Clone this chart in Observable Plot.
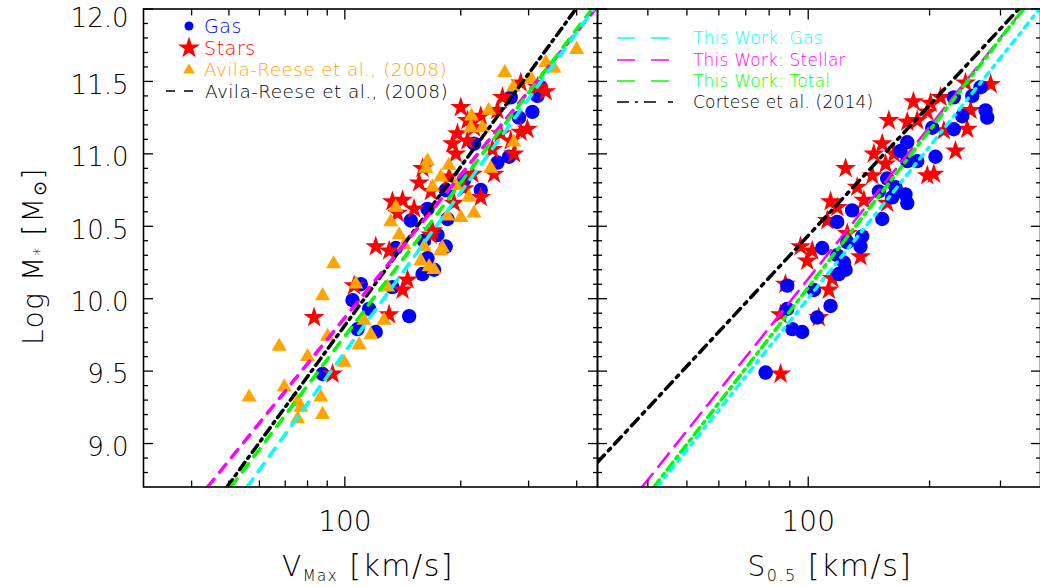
<!DOCTYPE html>
<html>
<head>
<meta charset="utf-8">
<script src="https://cdn.jsdelivr.net/npm/d3@7"></script>
<script src="https://cdn.jsdelivr.net/npm/@observablehq/plot@0.6"></script>
<style>
  html, body { margin: 0; padding: 0; background: #fff; }
  #chart { position: relative; width: 1040px; height: 587px; overflow: hidden; background: #fff; }
  #chart svg { position: absolute; top: 0; overflow: visible; }
</style>
</head>
<body>
<div id="chart"></div>
<script>
// ---- axis ticks ----
const yMajorTicks = [9.0, 9.5, 10.0, 10.5, 11.0, 11.5, 12.0];
const yMinorTicks = [8.8, 8.9, 9.1, 9.2, 9.3, 9.4, 9.6, 9.7, 9.8, 9.9, 10.1, 10.2, 10.3, 10.4,
                     10.6, 10.7, 10.8, 10.9, 11.1, 11.2, 11.3, 11.4, 11.6, 11.7, 11.8, 11.9];
const yLabelTicks = [9.0, 9.5, 10.0, 10.5, 11.0, 11.5];
const yTopLabelTick = [12.0];
const xMajorTicks = [100];
const xMinorTicksLeft = [40, 50, 60, 70, 80, 90, 200, 300, 400];
const xMinorTicksRight = [40, 50, 60, 70, 80, 90, 200, 300];

// ---- left panel: log M* against V_max ----
const vmaxGasV = [322.6, 316.2, 269.7, 306.9, 283.4, 216.5, 249.0, 266.9, 204.0, 225.4, 182.8, 163.9, 184.7, 148.3, 174.0,
                  160.6, 135.6, 163.9, 159.1, 110.0, 104.7, 132.9, 170.5, 182.8, 115.6, 107.9, 120.3, 146.9, 87.5];
const vmaxGasM = [11.46, 11.40, 11.39, 11.29, 11.25, 11.07, 10.94, 10.98, 10.82, 10.75, 10.75, 10.62, 10.55, 10.54, 10.44,
                  10.40, 10.35, 10.28, 10.17, 10.10, 9.99, 10.08, 10.20, 10.36, 9.93, 9.79, 9.77, 9.88, 9.48];

const vmaxStarsV = [316.2, 286.2, 256.6, 249.0, 225.4, 208.1, 286.2, 297.9, 196.1, 190.4, 208.1, 241.6, 275.0, 244.0,
                    194.1, 159.1, 155.9, 167.2, 186.5, 214.5, 132.9, 141.2, 151.3, 137.0, 192.1, 204.0, 225.4, 120.3,
                    130.3, 145.5, 141.2, 168.9, 254.0, 216.5, 200.0, 105.7, 130.3, 83.2, 92.9, 167.2, 269.7, 332.4];
const vmaxStarsM = [11.46, 11.49, 11.39, 11.30, 11.26, 11.23, 11.15, 11.17, 11.14, 11.07, 11.09, 11.03, 11.00, 10.86,
                    11.00, 10.90, 10.80, 10.74, 10.84, 10.86, 10.67, 10.68, 10.62, 10.59, 10.66, 10.76, 10.70, 10.36,
                    10.33, 10.13, 10.06, 10.47, 11.14, 11.18, 11.32, 10.09, 9.89, 9.87, 9.48, 10.44, 11.09, 11.43];

const avilaV = [399.9, 332.4, 349.2, 260.1, 303.9, 274.1, 213.2, 236.4, 212.3, 227.7, 274.5, 163.9, 162.3, 186.2, 239.2,
                177.5, 168.9, 194.1, 209.7, 135.6, 200.0, 216.5, 131.6, 184.7, 138.4, 142.5, 160.6, 179.3, 157.5, 170.5,
                93.5, 87.5, 106.8, 129.1, 112.2, 126.4, 90.2, 116.8, 108.9, 67.5, 80.0, 99.6, 69.6, 56.4, 75.4,
                86.6, 76.9, 87.5, 75.4, 165.5, 177.5];
const avilaM = [11.72, 11.63, 11.59, 11.56, 11.52, 11.46, 11.26, 11.30, 11.18, 11.18, 11.08, 10.95, 10.90, 10.92, 10.90,
                10.84, 10.77, 10.78, 10.70, 10.63, 10.56, 10.59, 10.53, 10.57, 10.44, 10.37, 10.36, 10.35, 10.26, 10.20,
                10.24, 10.02, 10.10, 10.08, 9.85, 9.85, 9.74, 9.75, 9.68, 9.67, 9.60, 9.56, 9.39, 9.32, 9.29,
                9.32, 9.25, 9.20, 9.17, 10.22, 10.33];

// fitted relations, given by their end points (V_max, log M*)
const vmaxFitM = [8.7, 12.0];
const vmaxGasFitV = [55.7, 443];
const vmaxStellarFitV = [44.0, 447];
const vmaxTotalFitV = [50.6, 438];
const avilaFitV = [49.4, 398];

// ---- right panel: log M* against S_0.5 ----
const s05GasS = [267.6, 255.3, 275.4, 278.1, 241.1, 229.7, 229.7, 203.1, 206.9, 176.1, 169.4, 186.4, 176.1, 157.0, 164.7,
                 174.3, 176.1, 161.6, 149.7, 152.6, 128.5, 118.0, 125.0, 136.1, 134.8, 108.3, 118.0, 122.6, 123.8, 119.1,
                 103.3, 88.7, 113.6, 105.3, 88.7, 91.3, 96.6, 78.4];
const s05GasM = [11.46, 11.40, 11.30, 11.25, 11.26, 11.39, 11.17, 11.18, 10.98, 11.08, 11.02, 10.95, 10.95, 10.83, 10.77,
                 10.72, 10.66, 10.70, 10.74, 10.55, 10.61, 10.53, 10.39, 10.43, 10.36, 10.35, 10.30, 10.25, 10.20, 10.17,
                 10.06, 10.09, 9.95, 9.87, 9.93, 9.79, 9.77, 9.49];

const s05StarsS = [283.5, 245.6, 213.0, 201.1, 197.4, 186.4, 158.5, 176.1, 248.0, 217.0, 252.8, 232.0, 205.0, 197.4,
                   152.6, 145.5, 163.1, 155.6, 123.8, 144.2, 132.3, 137.4, 113.6, 111.5, 118.0, 157.0, 134.8, 125.0,
                   95.7, 102.3, 99.4, 114.7, 112.5, 87.8, 106.2, 85.4, 85.4, 182.4];
const s05StarsM = [11.48, 11.49, 11.39, 11.35, 11.29, 11.23, 11.23, 11.22, 11.17, 11.16, 11.30, 11.02, 10.86, 10.85,
                   11.07, 11.00, 11.00, 10.93, 10.90, 10.85, 10.77, 10.68, 10.67, 10.54, 10.63, 10.66, 10.29, 10.45,
                   10.36, 10.33, 10.26, 10.14, 10.06, 10.10, 9.87, 9.89, 9.48, 11.36];

const s05FitM = [8.7, 12.0];
const s05GasFitS = [42.2, 375];
const s05StellarFitS = [38.7, 342];
const s05TotalFitS = [41.4, 342];
const corteseFitS = [30.0, 333];
const corteseFitM = [8.87, 12.0];

// ---- styling ----
const FONT = "'DejaVu Sans', sans-serif";
const BLUE = "#0000ff", RED = "#ff0000", ORANGE = "#ffa500";
const CYAN = "#00ffff", MAGENTA = "#ff00ff", GREEN = "#00ff00";
const H = 587, TOP = 8.5, BOTTOM = 100.5;
const yDomain = [8.7, 12.0];

const seg = (xs, ys) => xs.map((x, i) => ({x, y: ys[i]}));

function frameAxes(xMinor, withYLabels) {
  const tickOnly = () => "";
  const marks = [
    Plot.axisX(xMajorTicks, {anchor: "bottom", tickSize: -10, tickFormat: tickOnly, strokeWidth: 1.3}),
    Plot.axisX(xMinor, {anchor: "bottom", tickSize: -6, tickFormat: tickOnly, strokeWidth: 1.3}),
    Plot.axisX(xMajorTicks, {anchor: "top", tickSize: -10, tickFormat: tickOnly, strokeWidth: 1.3}),
    Plot.axisX(xMinor, {anchor: "top", tickSize: -6, tickFormat: tickOnly, strokeWidth: 1.3}),
    Plot.axisY(yMajorTicks, {anchor: "left", tickSize: -10, tickFormat: tickOnly, strokeWidth: 1.3}),
    Plot.axisY(yMinorTicks, {anchor: "left", tickSize: -5, tickFormat: tickOnly, strokeWidth: 1.3}),
    Plot.axisY(yMajorTicks, {anchor: "right", tickSize: -10, tickFormat: tickOnly, strokeWidth: 1.3}),
    Plot.axisY(yMinorTicks, {anchor: "right", tickSize: -5, tickFormat: tickOnly, strokeWidth: 1.3}),
    Plot.axisX(xMajorTicks, {anchor: "bottom", tickSize: 0, tickPadding: 24, tickFormat: d => String(d),
                             fontSize: 28, fontFamily: FONT, fontWeight: 200, letterSpacing: 2}),
    Plot.frame({stroke: "#000", strokeWidth: 1.6})
  ];
  if (withYLabels) {
    const yText = {anchor: "left", tickSize: 0, tickPadding: 15, tickFormat: d3.format(".1f"),
                   fontSize: 26, fontFamily: FONT, fontWeight: 200, letterSpacing: 3};
    marks.push(Plot.axisY(yLabelTicks, {...yText, dy: 4}));
    marks.push(Plot.axisY(yTopLabelTick, {...yText, dy: 10}));
  }
  return marks;
}

// left panel
const left = Plot.plot({
  width: 597, height: H, marginTop: TOP, marginBottom: BOTTOM, marginLeft: 143, marginRight: 0,
  x: {type: "log", domain: [30, 453], label: null},
  y: {domain: yDomain, label: null},
  style: {fontFamily: FONT, color: "#000", background: "transparent", overflow: "visible"},
  marks: [
    Plot.dot(vmaxGasV, {x: vmaxGasV, y: vmaxGasM, r: 7.2, fill: BLUE, symbol: "circle"}),
    Plot.dot(vmaxStarsV, {x: vmaxStarsV, y: vmaxStarsM, r: 6.6, fill: RED, symbol: "star"}),
    Plot.dot(avilaV, {x: avilaV, y: avilaM, r: 5.6, fill: ORANGE, symbol: "triangle"}),
    Plot.line(seg(avilaFitV, vmaxFitM), {x: "x", y: "y", stroke: "#000", strokeWidth: 3.5, strokeDasharray: "9,5,2.5,5", clip: true}),
    Plot.line(seg(vmaxStellarFitV, vmaxFitM), {x: "x", y: "y", stroke: MAGENTA, strokeWidth: 3.5, strokeDasharray: "10,9", clip: true}),
    Plot.line(seg(vmaxTotalFitV, vmaxFitM), {x: "x", y: "y", stroke: GREEN, strokeWidth: 3.5, strokeDasharray: "10,9", clip: true}),
    Plot.line(seg(vmaxGasFitV, vmaxFitM), {x: "x", y: "y", stroke: CYAN, strokeWidth: 3.5, strokeDasharray: "10,9", clip: true}),
    ...frameAxes(xMinorTicksLeft, true)
  ]
});

// right panel
const right = Plot.plot({
  width: 443, height: H, marginTop: TOP, marginBottom: BOTTOM, marginLeft: 0, marginRight: 0,
  x: {type: "log", domain: [30, 377], label: null},
  y: {domain: yDomain, label: null},
  style: {fontFamily: FONT, color: "#000", background: "transparent", overflow: "visible"},
  marks: [
    Plot.dot(s05StarsS, {x: s05StarsS, y: s05StarsM, r: 6.6, fill: RED, symbol: "star"}),
    Plot.dot(s05GasS, {x: s05GasS, y: s05GasM, r: 7.2, fill: BLUE, symbol: "circle"}),
    Plot.line(seg(corteseFitS, corteseFitM), {x: "x", y: "y", stroke: "#000", strokeWidth: 3.5, strokeDasharray: "10,6,3,6", clip: true}),
    Plot.line(seg(s05StellarFitS, s05FitM), {x: "x", y: "y", stroke: MAGENTA, strokeWidth: 2.5, strokeDasharray: "17,9", clip: true}),
    Plot.line(seg(s05TotalFitS, s05FitM), {x: "x", y: "y", stroke: GREEN, strokeWidth: 3.5, strokeDasharray: "9,5,3,5", clip: true}),
    Plot.line(seg(s05GasFitS, s05FitM), {x: "x", y: "y", stroke: CYAN, strokeWidth: 3.5, strokeDasharray: "6,6,3,6", clip: true}),
    ...frameAxes(xMinorTicksRight, false)
  ]
});

const chart = document.getElementById("chart");
left.style.left = "0px";
right.style.left = "597px";
chart.appendChild(left);
chart.appendChild(right);

// ---- titles ----
function label(svg, attrs, parts) {
  const t = d3.select(svg).append("text")
    .attr("font-family", FONT).attr("font-weight", 200).attr("fill", "#000")
    .attr("letter-spacing", 1.5);
  for (const [k, v] of Object.entries(attrs)) t.attr(k, v);
  for (const p of parts) {
    const s = t.append("tspan").text(p.text).attr("font-size", p.size);
    if (p.dy) s.attr("dy", p.dy);
  }
  return t;
}

label(left, {x: 368, y: 576, "text-anchor": "middle"}, [
  {text: "V", size: 28}, {text: "Max", size: 15, dy: 5}, {text: " [km/s]", size: 30, dy: -5}
]);
label(right, {x: 233, y: 576, "text-anchor": "middle"}, [
  {text: "S", size: 28}, {text: "0.5", size: 16, dy: 5}, {text: " [km/s]", size: 30, dy: -5}
]);
label(left, {transform: "translate(43,256) rotate(-90)", "text-anchor": "middle"}, [
  {text: "Log M", size: 28}, {text: "*", size: 15, dy: 2}, {text: " [M", size: 29, dy: -2},
  {text: "⊙", size: 18, dy: 3}, {text: "]", size: 29, dy: -3}
]);

// ---- legends ----
function legendText(g, x, y, text, color, size, spacing) {
  g.append("text").attr("x", x).attr("y", y).attr("dy", "0.35em")
    .attr("text-anchor", "start")
    .attr("font-family", FONT).attr("font-weight", 200).attr("font-size", size)
    .attr("letter-spacing", spacing).attr("fill", color).text(text);
}

const lg = d3.select(left).append("g");
lg.append("circle").attr("cx", 189).attr("cy", 26).attr("r", 4.5).attr("fill", BLUE);
legendText(lg, 204, 26, "Gas", BLUE, 19, 0.6);
lg.append("path").attr("d", d3.symbol(d3.symbolStar, 150)()).attr("transform", "translate(189,48)").attr("fill", RED);
legendText(lg, 204, 48, "Stars", RED, 19, 0.6);
lg.append("path").attr("d", d3.symbol(d3.symbolTriangle, 60)()).attr("transform", "translate(189,70)").attr("fill", ORANGE);
legendText(lg, 204, 70, "Avila-Reese et al., (2008)", ORANGE, 18.5, 0.4);
lg.append("line").attr("x1", 166).attr("x2", 194).attr("y1", 91).attr("y2", 91)
  .attr("stroke", "#000").attr("stroke-width", 1.4).attr("stroke-dasharray", "9,9");
legendText(lg, 205, 91.5, "Avila-Reese et al., (2008)", "#000", 18.5, 0.4);

const rg = d3.select(right).append("g");
const rightLegend = [
  {text: "This Work: Gas", color: CYAN, dash: "18,16", y: 38},
  {text: "This Work: Stellar", color: MAGENTA, dash: "18,16", y: 60},
  {text: "This Work: Total", color: GREEN, dash: "18,16", y: 81},
  {text: "Cortese et al. (2014)", color: "#000", dash: "12,6,3,6,12", y: 102}
];
for (const d of rightLegend) {
  rg.append("line").attr("x1", 20).attr("x2", 76).attr("y1", d.y).attr("y2", d.y)
    .attr("stroke", d.color).attr("stroke-width", 1.5).attr("stroke-dasharray", d.dash);
  legendText(rg, 96, d.y, d.text, d.color, 17, 0.2);
}
</script>
</body>
</html>
